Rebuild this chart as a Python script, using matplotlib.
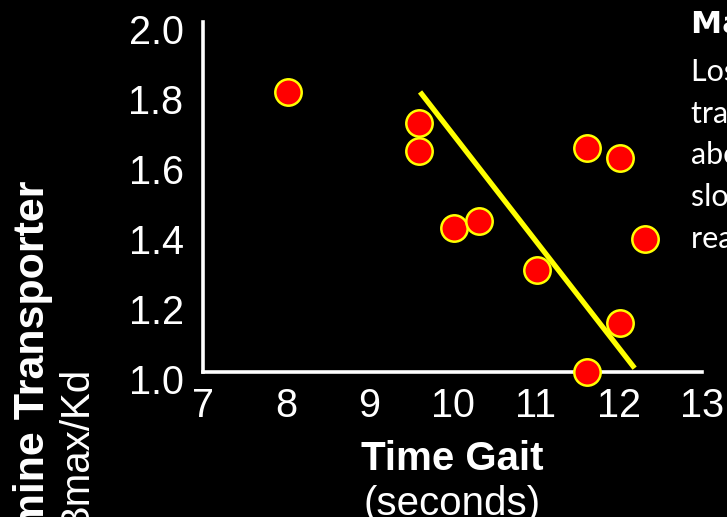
import matplotlib
matplotlib.use("Agg")
import matplotlib.pyplot as plt
import matplotlib.transforms as mtransforms

plt.rcParams['font.family'] = ['Liberation Sans', 'DejaVu Sans']

# gait time (s) vs striatal DAT binding
gait_time = [8.02, 9.60, 9.60, 10.02, 10.32, 11.02, 11.62, 12.01, 12.31, 12.01, 11.62]
dat_binding = [1.80, 1.71, 1.63, 1.41, 1.43, 1.29, 1.64, 1.61, 1.38, 1.14, 1.00]

# hand drawn trend line
trend_x = [9.61, 12.19]
trend_y = [1.80, 1.01]

x_ticks = [7, 8, 9, 10, 11, 12, 13]
y_ticks = [1.0, 1.2, 1.4, 1.6, 1.8, 2.0]

side_title = "Main finding"
side_lines = ["Loss of dopamine", "transporter binding", "about the striatum",
              "slows gait and", "reaction time"]

W, H = 727, 517
fig = plt.figure(figsize=(W / 100, H / 100), dpi=100, facecolor='black')
ax = fig.add_axes([203 / W, (H - 371.7) / H, (702 - 203) / W, (371.7 - 22) / H])
ax.set_facecolor('black')

ax.plot(gait_time, dat_binding, linestyle='none', marker='o', ms=19,
        mfc='#ff0000', mec='#ffff00', mew=1.8, clip_on=False, zorder=3)
ax.plot(trend_x, trend_y, color='#ffff00', lw=3.8, solid_capstyle='butt',
        clip_on=False, zorder=4)

ax.set_xlim(7, 13)
ax.set_ylim(1.0, 2.0)
ax.set_xticks(x_ticks)
ax.set_yticks(y_ticks)
ax.set_xticklabels([str(t) for t in x_ticks])
ax.set_yticklabels(['%.1f' % t for t in y_ticks])

for side in ['top', 'right']:
    ax.spines[side].set_visible(False)
for side in ['left', 'bottom']:
    ax.spines[side].set_color('white')
    ax.spines[side].set_linewidth(2.6)

ax.tick_params(axis='both', length=0, colors='white', labelsize=28.5)
ax.tick_params(axis='y', pad=14)
ax.tick_params(axis='x', pad=11)

# y labels sit a little low on the original slide
shift = mtransforms.ScaledTranslation(0, -5 / 72, fig.dpi_scale_trans)
for lab in ax.get_yticklabels():
    lab.set_transform(lab.get_transform() + shift)

# axis titles
fig.text(452 / W, (H - 470) / H, "Time Gait", color='white', fontsize=29,
         fontweight='bold', ha='center', va='baseline')
fig.text(452 / W, (H - 515) / H, "(seconds)", color='white', fontsize=29,
         ha='center', va='baseline')

fig.text(33 / W, (H - 180) / H, "Striatal Dopamine Transporter", color='white',
         fontsize=31, fontweight='bold', rotation=90, ha='center', va='top')
fig.text(76 / W, (H - 366) / H, "Bmax/Kd", color='white', fontsize=29,
         rotation=90, ha='center', va='top')

# side note, cut off by the slide crop
fig.text(691 / W, (H - 33.3) / H, side_title, color='white', fontsize=22.5,
         fontweight='bold', family=['DejaVu Sans'], va='baseline')
for i, line in enumerate(side_lines):
    fig.text(691 / W, (H - 81 - 41.7 * i) / H, line, color='white', fontsize=22,
             family=['Lato', 'DejaVu Sans'], va='baseline')

fig.savefig('out.png', dpi=100, facecolor='black')
